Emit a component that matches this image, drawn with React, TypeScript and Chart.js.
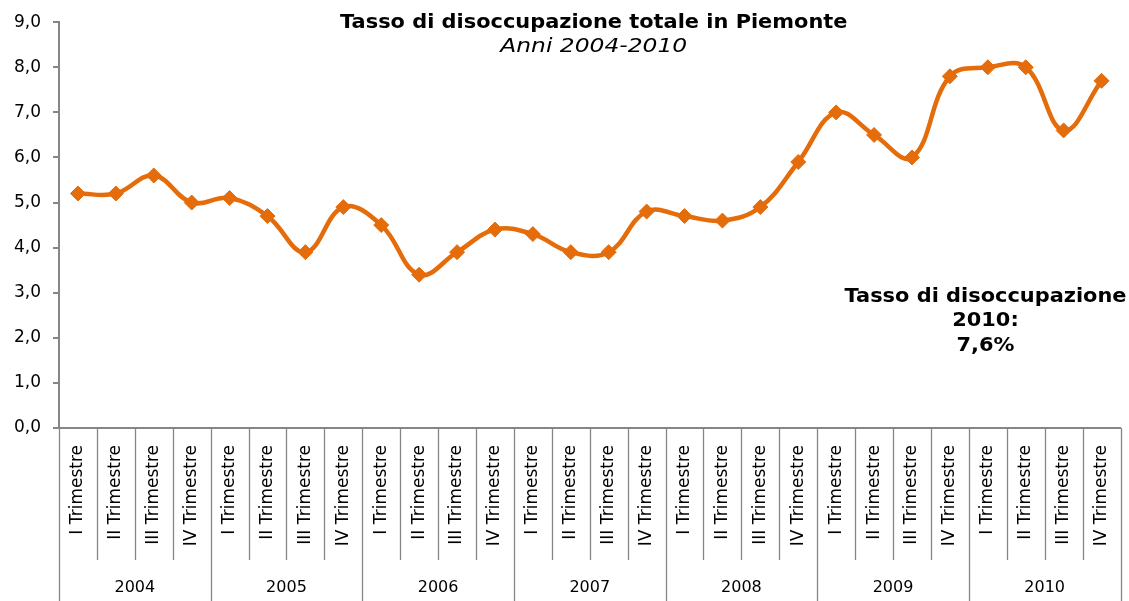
import React, { useEffect, useRef } from 'react';
import { Chart, registerables } from 'chart.js';

Chart.register(...registerables);

const YEARS = ['2004', '2005', '2006', '2007', '2008', '2009', '2010'];
const QUARTERS = ['I Trimestre', 'II Trimestre', 'III Trimestre', 'IV Trimestre'];
const LABELS = YEARS.flatMap(() => QUARTERS);
const RATES = [
  5.2, 5.2, 5.6, 5.0,
  5.1, 4.7, 3.9, 4.9,
  4.5, 3.4, 3.9, 4.4,
  4.3, 3.9, 3.9, 4.8,
  4.7, 4.6, 4.9, 5.9,
  7.0, 6.5, 6.0, 7.8,
  8.0, 8.0, 6.6, 7.7,
];
const TITLE = 'Tasso di disoccupazione totale in Piemonte';
const SUBTITLE = 'Anni 2004-2010';
const NOTE = ['Tasso di disoccupazione', '2010:', '7,6%'];
const Y_MIN = 0;
const Y_MAX = 9;
const Y_STEP = 1;

const FONT = '"DejaVu Sans", Verdana, sans-serif';
const ORANGE = '#E46C0A';
const AXIS = '#868686';

function stretchedText(ctx: CanvasRenderingContext2D, text: string, x: number, y: number, sx: number) {
  ctx.save();
  ctx.translate(x, y);
  ctx.scale(sx, 1);
  ctx.fillText(text, 0, 0);
  ctx.restore();
}

const decorPlugin = {
  id: 'decor',
  afterDraw(chart: any) {
    const ctx = chart.ctx;
    const x = chart.scales.x;
    const area = chart.chartArea;
    const half = (x.getPixelForValue(1) - x.getPixelForValue(0)) / 2;
    const top = x.top;
    ctx.save();
    ctx.strokeStyle = AXIS;
    ctx.lineWidth = 1.3;
    for (let i = 0; i <= LABELS.length; i++) {
      const px = Math.round(x.getPixelForValue(i) - half) + 0.5;
      const isYear = i % QUARTERS.length === 0;
      ctx.beginPath();
      ctx.moveTo(px, top);
      ctx.lineTo(px, isYear ? chart.height : top + 132);
      ctx.stroke();
    }
    ctx.fillStyle = '#000';
    ctx.font = `16px ${FONT}`;
    ctx.textAlign = 'center';
    ctx.textBaseline = 'middle';
    YEARS.forEach((yr, k) => {
      const a = x.getPixelForValue(k * 4) - half;
      const b = x.getPixelForValue(k * 4 + 3) + half;
      ctx.fillText(yr, (a + b) / 2, top + 160);
    });
    const cx = (area.left + area.right) / 2 + 4;
    ctx.font = `bold 19px ${FONT}`;
    stretchedText(ctx, TITLE, cx, 23, 1.1);
    ctx.font = `italic 19px ${FONT}`;
    stretchedText(ctx, SUBTITLE, cx, 47, 1.23);
    ctx.font = `bold 19px ${FONT}`;
    const nx = area.right - 135;
    NOTE.forEach((t, i) => stretchedText(ctx, t, nx, 297 + i * 24.5, 1.1));
    ctx.restore();
  },
};

export default function App() {
  const ref = useRef<HTMLCanvasElement>(null);
  useEffect(() => {
    if (!ref.current) return;
    const chart = new Chart(ref.current, {
      type: 'line',
      data: {
        labels: LABELS,
        datasets: [
          {
            data: RATES,
            borderColor: ORANGE,
            backgroundColor: ORANGE,
            borderWidth: 4.5,
            tension: 0.4,
            pointStyle: 'rectRot',
            pointRadius: 7.5,
            pointBorderWidth: 1,
            pointBackgroundColor: ORANGE,
            pointBorderColor: ORANGE,
          },
        ],
      },
      options: {
        responsive: false,
        animation: false,
        layout: { padding: { top: 20, right: 5, left: 0, bottom: 0 } },
        plugins: { legend: { display: false }, tooltip: { enabled: false }, title: { display: false } },
        scales: {
          x: {
            type: 'category',
            offset: true,
            grid: { display: false, drawTicks: false },
            border: { display: true, color: AXIS, width: 2 },
            ticks: {
              autoSkip: false,
              maxRotation: 90,
              minRotation: 90,
              padding: 17,
              color: '#000',
              font: { family: FONT, size: 17 },
            },
            afterFit: (s: any) => {
              s.height = 173;
              s.paddingLeft = 0;
              s.paddingRight = 0;
            },
          },
          y: {
            min: Y_MIN,
            max: Y_MAX,
            ticks: {
              stepSize: Y_STEP,
              color: '#000',
              padding: 12,
              font: { family: FONT, size: 17 },
              callback: (v: any) => Number(v).toFixed(1).replace('.', ','),
            },
            grid: { drawOnChartArea: false, drawTicks: true, tickLength: 6, color: AXIS, lineWidth: 2 },
            border: { display: true, color: AXIS, width: 2 },
            afterFit: (s: any) => { s.width = 59; },
          },
        },
      },
      plugins: [decorPlugin],
    });
    return () => chart.destroy();
  }, []);
  return (
    <div style={{ position: 'fixed', left: 0, top: 0, width: 1129, height: 601, background: '#fff' }}>
      <canvas ref={ref} width={1129} height={601} />
    </div>
  );
}
